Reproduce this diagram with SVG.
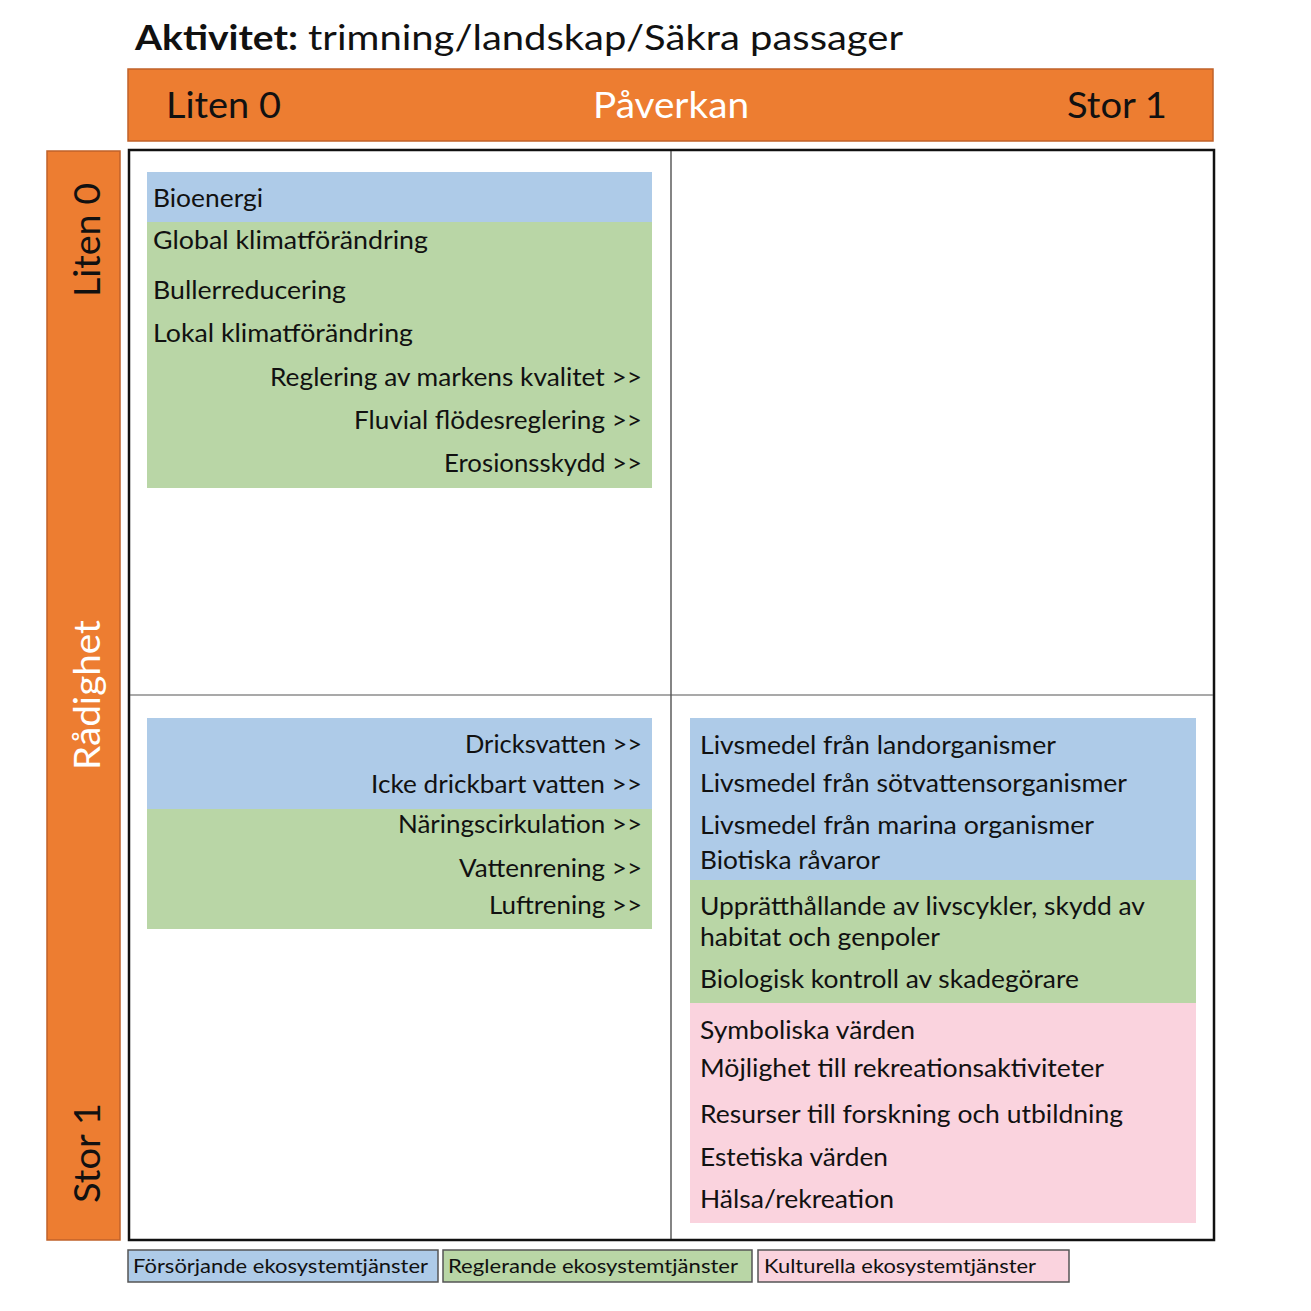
<svg xmlns="http://www.w3.org/2000/svg" width="1311" height="1311" viewBox="0 0 1311 1311">
<style>
text{font-family:Lato,"Open Sans","Liberation Sans",sans-serif;fill:#111;}
.b{font-size:25px;}
.r{font-size:25px;text-anchor:end;}
.lg{font-size:19px;}
.hd{font-size:36px;}
.or{fill:#ED7D31;stroke:#C0622A;stroke-width:1.5;}
.blue{fill:#AECBE8;}
.green{fill:#B9D6A6;}
.pink{fill:#FAD3DE;}
.leg{stroke:#555;stroke-width:1.5;}
</style>
<rect width="1311" height="1311" fill="#fff"/>
<g id="title">
<text x="135" y="50" style="font-size:34px"><tspan font-weight="bold" textLength="163" lengthAdjust="spacingAndGlyphs">Aktivitet:</tspan><tspan x="308" textLength="595" lengthAdjust="spacingAndGlyphs">trimning/landskap/Säkra passager</tspan></text>
</g>
<g id="top-axis">
<rect class="or" x="128" y="69" width="1085" height="72"/>
<text class="hd" x="166" y="118" textLength="115" lengthAdjust="spacingAndGlyphs">Liten 0</text>
<text class="hd" x="671" y="118" text-anchor="middle" style="fill:#fff" textLength="156" lengthAdjust="spacingAndGlyphs">Påverkan</text>
<text class="hd" x="1167" y="118" text-anchor="end" textLength="100" lengthAdjust="spacingAndGlyphs">Stor 1</text>
</g>
<g id="left-axis">
<rect class="or" x="47" y="151" width="73" height="1089"/>
<text class="hd" transform="translate(100,240) rotate(-90)" text-anchor="middle" textLength="114" lengthAdjust="spacingAndGlyphs">Liten 0</text>
<text class="hd" transform="translate(100,695) rotate(-90)" text-anchor="middle" style="fill:#fff" textLength="150" lengthAdjust="spacingAndGlyphs">Rådighet</text>
<text class="hd" transform="translate(100,1153) rotate(-90)" text-anchor="middle" textLength="100" lengthAdjust="spacingAndGlyphs">Stor 1</text>
</g>
<g id="grid">
<rect x="129" y="150" width="1085" height="1090" fill="none" stroke="#111" stroke-width="2.5"/>
<line x1="671" y1="151" x2="671" y2="1239" stroke="#333" stroke-width="1.2"/>
<line x1="130" y1="695" x2="1213" y2="695" stroke="#555" stroke-width="1.2"/>
</g>
<g id="q-top-left">
<rect class="blue" x="147" y="172" width="505" height="50"/>
<rect class="green" x="147" y="222" width="505" height="266"/>
<text class="b" x="153" y="207" textLength="110" lengthAdjust="spacingAndGlyphs">Bioenergi</text>
<text class="b" x="153" y="249" textLength="275" lengthAdjust="spacingAndGlyphs">Global klimatförändring</text>
<text class="b" x="153" y="299" textLength="193" lengthAdjust="spacingAndGlyphs">Bullerreducering</text>
<text class="b" x="153" y="342" textLength="260" lengthAdjust="spacingAndGlyphs">Lokal klimatförändring</text>
<text class="r" x="642" y="386" textLength="372" lengthAdjust="spacingAndGlyphs">Reglering av markens kvalitet &gt;&gt;</text>
<text class="r" x="642" y="429" textLength="288" lengthAdjust="spacingAndGlyphs">Fluvial flödesreglering &gt;&gt;</text>
<text class="r" x="642" y="472" textLength="198" lengthAdjust="spacingAndGlyphs">Erosionsskydd &gt;&gt;</text>
</g>
<g id="q-bottom-left">
<rect class="blue" x="147" y="718" width="505" height="91"/>
<rect class="green" x="147" y="809" width="505" height="120"/>
<text class="r" x="642" y="753" textLength="177" lengthAdjust="spacingAndGlyphs">Dricksvatten &gt;&gt;</text>
<text class="r" x="642" y="793" textLength="271" lengthAdjust="spacingAndGlyphs">Icke drickbart vatten &gt;&gt;</text>
<text class="r" x="642" y="833" textLength="244" lengthAdjust="spacingAndGlyphs">Näringscirkulation &gt;&gt;</text>
<text class="r" x="642" y="877" textLength="183" lengthAdjust="spacingAndGlyphs">Vattenrening &gt;&gt;</text>
<text class="r" x="642" y="914" textLength="153" lengthAdjust="spacingAndGlyphs">Luftrening &gt;&gt;</text>
</g>
<g id="q-bottom-right">
<rect class="blue" x="690" y="718" width="506" height="162"/>
<rect class="green" x="690" y="880" width="506" height="123"/>
<rect class="pink" x="690" y="1003" width="506" height="220"/>
<text class="b" x="700" y="754" textLength="356" lengthAdjust="spacingAndGlyphs">Livsmedel från landorganismer</text>
<text class="b" x="700" y="792" textLength="427" lengthAdjust="spacingAndGlyphs">Livsmedel från sötvattensorganismer</text>
<text class="b" x="700" y="834" textLength="394" lengthAdjust="spacingAndGlyphs">Livsmedel från marina organismer</text>
<text class="b" x="700" y="869" textLength="180" lengthAdjust="spacingAndGlyphs">Biotiska råvaror</text>
<text class="b" x="700" y="915" textLength="445" lengthAdjust="spacingAndGlyphs">Upprätthållande av livscykler, skydd av</text>
<text class="b" x="700" y="946" textLength="240" lengthAdjust="spacingAndGlyphs">habitat och genpoler</text>
<text class="b" x="700" y="988" textLength="379" lengthAdjust="spacingAndGlyphs">Biologisk kontroll av skadegörare</text>
<text class="b" x="700" y="1039" textLength="215" lengthAdjust="spacingAndGlyphs">Symboliska värden</text>
<text class="b" x="700" y="1077" textLength="404" lengthAdjust="spacingAndGlyphs">Möjlighet till rekreationsaktiviteter</text>
<text class="b" x="700" y="1123" textLength="423" lengthAdjust="spacingAndGlyphs">Resurser till forskning och utbildning</text>
<text class="b" x="700" y="1166" textLength="188" lengthAdjust="spacingAndGlyphs">Estetiska värden</text>
<text class="b" x="700" y="1208" textLength="194" lengthAdjust="spacingAndGlyphs">Hälsa/rekreation</text>
</g>
<g id="legend">
<rect class="blue leg" x="128" y="1250" width="310" height="32"/>
<rect class="green leg" x="443" y="1250" width="309" height="32"/>
<rect class="pink leg" x="758" y="1250" width="311" height="32"/>
<text class="lg" x="133" y="1273" textLength="295" lengthAdjust="spacingAndGlyphs">Försörjande ekosystemtjänster</text>
<text class="lg" x="448" y="1273" textLength="290" lengthAdjust="spacingAndGlyphs">Reglerande ekosystemtjänster</text>
<text class="lg" x="764" y="1273" textLength="272" lengthAdjust="spacingAndGlyphs">Kulturella ekosystemtjänster</text>
</g>
<g id="connectors"></g>
</svg>
